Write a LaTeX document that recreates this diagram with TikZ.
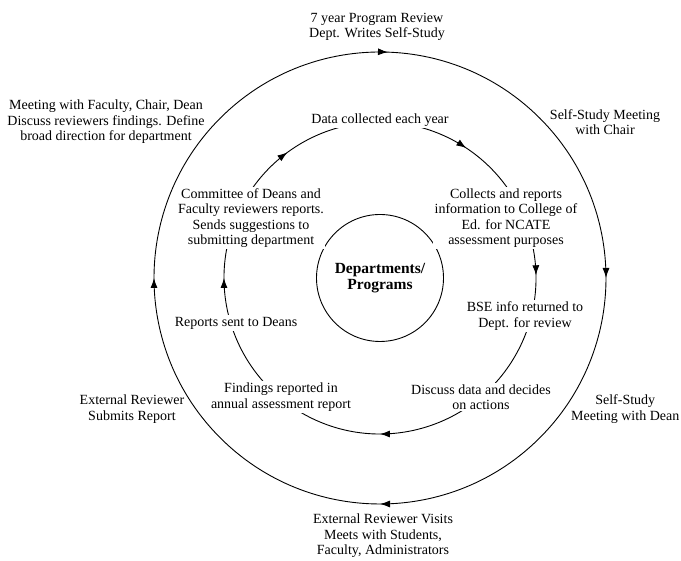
\documentclass[tikz,border=0pt]{standalone}
\usepackage{fontspec}
\setmainfont{Liberation Serif}
\usetikzlibrary{arrows.meta,decorations.markings}

\begin{document}
\begin{tikzpicture}[
  x=1pt, y=1pt, >={Latex[length=10pt,width=7pt]},
  lbl/.style={align=center,font=\fontsize{14}{15.5}\selectfont,inner sep=1.5pt},
  onring/.style={lbl,fill=white},
  ring/.style={line width=0.9pt,postaction={decorate}}]
  \useasboundingbox (0,0) rectangle (681,561);
  \coordinate (c) at (380,283);
  \draw[ring,decoration={markings,
      mark=at position 0.1306 with {\arrow{>}},
      mark=at position 0.375 with {\arrow{>}},
      mark=at position 0.625 with {\arrow{>}},
      mark=at position 0.875 with {\arrow{>}}}]
    (c) ++(135:226) arc[start angle=135,end angle=-225,radius=226];
  \draw[ring,decoration={markings,
      mark=at position 0.0656 with {\arrow{>}},
      mark=at position 0.26 with {\arrow{>}},
      mark=at position 0.4139 with {\arrow{>}},
      mark=at position 0.6667 with {\arrow{>}},
      mark=at position 0.9167 with {\arrow{>}}}]
    (c) ++(150:156) arc[start angle=150,end angle=-210,radius=156];
  \node[draw,circle,line width=0.9pt,minimum size=127pt,align=center,
    font=\fontsize{15.5}{16.5}\selectfont\bfseries] (dept) at (c) {Departments/\\Programs};
  \node[lbl] (review) at (377,534) {7 year Program Review\\Dept. Writes Self-Study};
  \node[lbl] (chair) at (605,439) {Self-Study Meeting\\with Chair};
  \node[lbl,anchor=east,inner sep=0.5pt] (dean) at (680,152) {Self-Study\\Meeting with Dean};
  \node[lbl] (visit) at (383,25) {External Reviewer Visits\\Meets with Students,\\Faculty, Administrators};
  \node[lbl] (submit) at (132,152) {External Reviewer\\Submits Report};
  \node[lbl] (meet) at (106,439) {Meeting with Faculty, Chair, Dean\\Discuss reviewers findings. Define\\broad direction for department};
  \node[onring] (data) at (380,441) {Data collected each year};
  \node[onring] (collect) at (506,343) {Collects and reports\\information to College of\\Ed. for NCATE\\assessment purposes};
  \node[onring] (bse) at (525,245) {BSE info returned to\\Dept. for review};
  \node[onring] (discuss) at (481,164) {Discuss data and decides\\on actions};
  \node[onring] (findings) at (281,164) {Findings reported in\\annual assessment report};
  \node[onring] (sent) at (236,238) {Reports sent to Deans};
  \node[onring] (committee) at (251,343) {Committee of Deans and\\Faculty reviewers reports.\\Sends suggestions to\\submitting department};
\end{tikzpicture}
\end{document}
